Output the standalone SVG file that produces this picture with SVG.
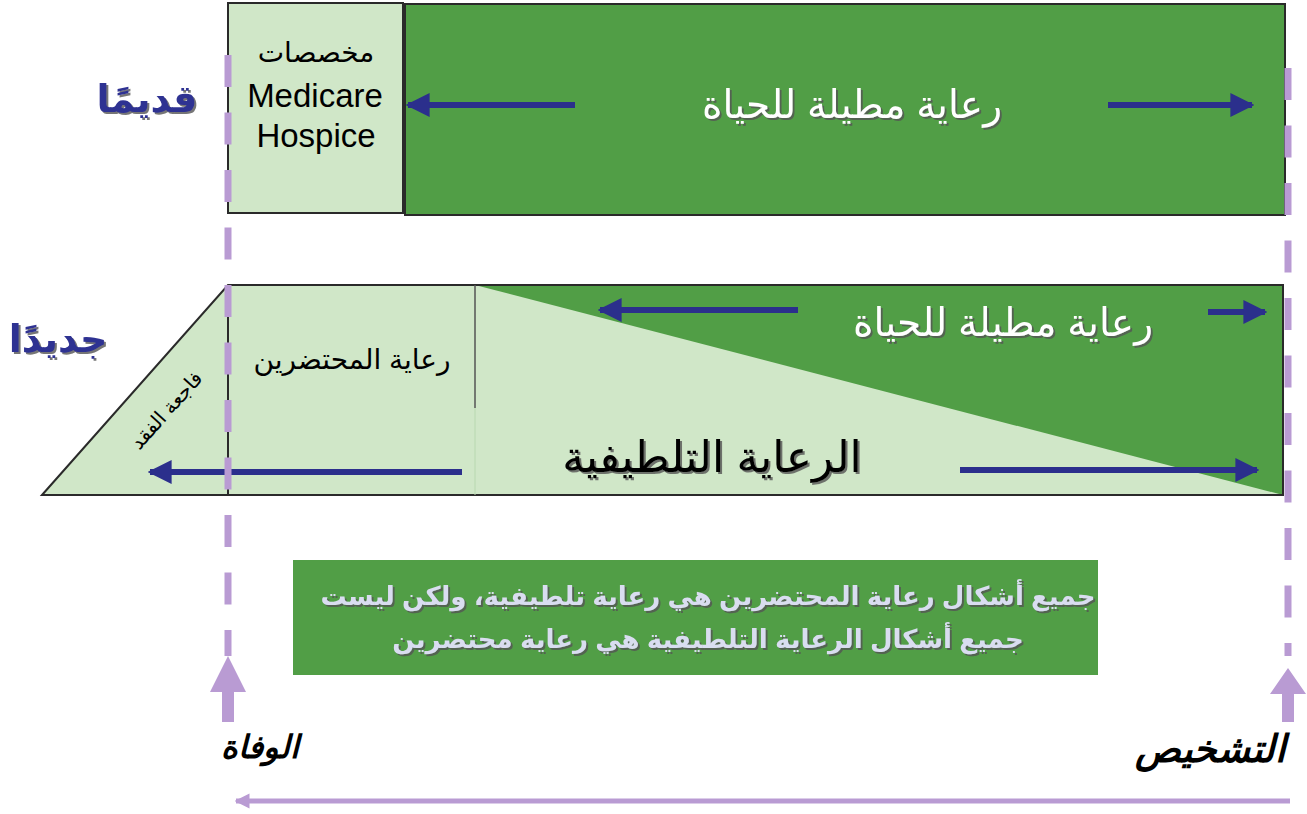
<svg xmlns="http://www.w3.org/2000/svg" width="1307" height="814" viewBox="0 0 1307 814">
<defs>
<style>
.dk{fill:#519e46;stroke:#2a2a2a;stroke-width:2}
.lt{fill:#d0e7c8;stroke:#2a2a2a;stroke-width:2}
.ar{fill:none;stroke:#2b2f8c;stroke-width:6}
.pd{fill:none;stroke:#b99bd3;stroke-width:7;stroke-dasharray:32 25.5}
.t{font-family:"Liberation Sans","DejaVu Sans",Arial,sans-serif;text-anchor:middle}
.w{fill:#ffffff}
.b{fill:#000000}
.blue{fill:#2e3192;font-weight:bold}
.note{fill:#d9ddf0;font-weight:bold}
</style>
<marker id="nav" viewBox="0 0 10 10" refX="9" refY="5" markerWidth="4" markerHeight="4" orient="auto" markerUnits="strokeWidth"><path d="M0,0 L10,5 L0,10 z" fill="#2b2f8c"/></marker>
<marker id="pur" viewBox="0 0 10 10" refX="9" refY="5" markerWidth="3" markerHeight="3.6" orient="auto" markerUnits="strokeWidth"><path d="M0,0 L10,5 L0,10 z" fill="#b99bd3"/></marker>
<filter id="sh" x="-10%" y="-20%" width="130%" height="150%"><feDropShadow dx="2" dy="2" stdDeviation="0.6" flood-color="#555" flood-opacity="0.8"/></filter>
</defs>

<g id="old-label"><text class="t blue" x="147" y="112" font-size="38" filter="url(#sh)">قديمًا</text></g>
<g id="new-label"><text class="t blue" x="58" y="352" font-size="38" filter="url(#sh)">جديدًا</text></g>

<g id="hospice-old">
<rect class="lt" x="228" y="3" width="175" height="210"/>
<text class="t b" x="316" y="62" font-size="28">مخصصات</text>
<text class="t b" x="315" y="107" font-size="33">Medicare</text>
<text class="t b" x="316" y="147" font-size="33">Hospice</text>
</g>

<g id="life-old">
<rect class="dk" x="405" y="4" width="880" height="211"/>
<text class="t w" x="852" y="118" font-size="39" filter="url(#sh)">رعاية مطيلة للحياة</text>
</g>

<g id="new-band">
<polygon points="42,495 228,285 1283,285 1283,495" fill="#d0e7c8"/>
<polygon points="475,285 1283,285 1283,495" fill="#519e46"/>
<path d="M42,495 L228,285 L1283,285 L1283,495 Z" fill="none" stroke="#2a2a2a" stroke-width="2"/>
<line x1="228" y1="285" x2="228" y2="495" stroke="#2a2a2a" stroke-width="2"/>
<line x1="475" y1="285" x2="475" y2="408" stroke="#555" stroke-width="1.5"/>
<line x1="475" y1="408" x2="475" y2="495" stroke="#b8d8b0" stroke-width="1"/>
</g>

<g id="bereavement"><text class="t b" x="167" y="417" font-size="20" transform="rotate(-48 167 411)">فاجعة الفقد</text></g>
<g id="hospice-new"><text class="t b" x="352" y="369" font-size="28">رعاية المحتضرين</text></g>
<g id="life-new"><text class="t w" x="1003" y="336" font-size="39" filter="url(#sh)">رعاية مطيلة للحياة</text></g>
<g id="palliative"><text class="t b" x="712" y="472" font-size="44" filter="url(#sh)">الرعاية التلطيفية</text></g>

<g id="note">
<rect x="293" y="560" width="805" height="115" fill="#519e46"/>
<text class="t note" x="708" y="605" font-size="26" filter="url(#sh)">جميع أشكال رعاية المحتضرين هي رعاية تلطيفية، ولكن ليست</text>
<text class="t note" x="708" y="648" font-size="26" filter="url(#sh)">جميع أشكال الرعاية التلطيفية هي رعاية محتضرين</text>
</g>

<g id="death"><text class="t b" x="260" y="758" font-size="32" font-weight="bold" font-style="italic">الوفاة</text></g>
<g id="diagnosis"><text class="t b" x="1210" y="762" font-size="38" font-weight="bold" font-style="italic">التشخيص</text></g>

<g id="connectors">
<line class="ar" x1="575" y1="105" x2="408" y2="105" marker-end="url(#nav)"/>
<line class="ar" x1="1108" y1="105" x2="1252" y2="105" marker-end="url(#nav)"/>
<line class="ar" x1="798" y1="310" x2="600" y2="310" marker-end="url(#nav)"/>
<line class="ar" x1="1208" y1="312" x2="1265" y2="312" marker-end="url(#nav)"/>
<line class="ar" x1="462" y1="472" x2="150" y2="472" marker-end="url(#nav)"/>
<line class="ar" x1="960" y1="470" x2="1257" y2="470" marker-end="url(#nav)"/>
<line class="pd" x1="228" y1="55" x2="228" y2="656"/>
<line class="pd" x1="1288" y1="68" x2="1288" y2="656"/>
<polygon points="228,656 246,692 234,692 234,722 222,722 222,692 210,692" fill="#b99bd3"/>
<polygon points="1288,668 1306,694 1294,694 1294,722 1282,722 1282,694 1270,694" fill="#b99bd3"/>
<line x1="1290" y1="801" x2="236" y2="801" stroke="#b99bd3" stroke-width="5" marker-end="url(#pur)"/>
</g>
</svg>
